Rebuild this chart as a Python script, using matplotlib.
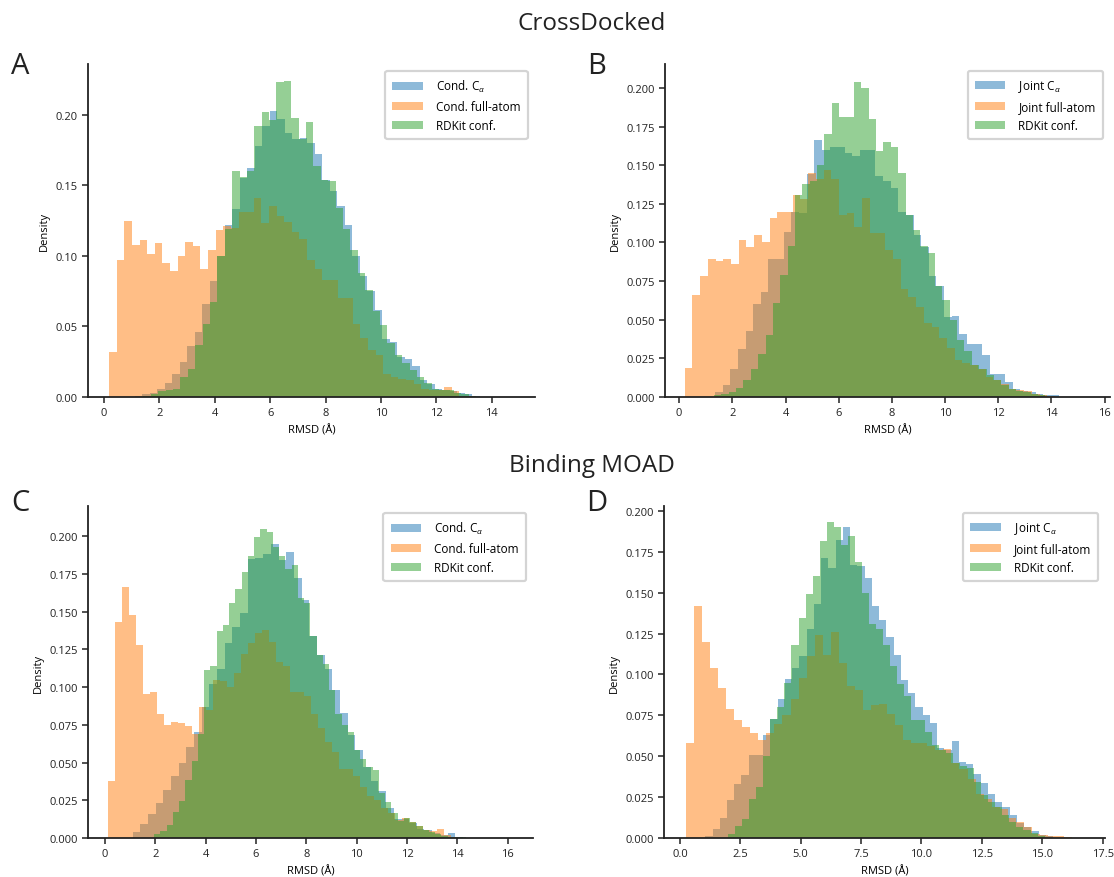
import numpy as np
import matplotlib.pyplot as plt
from matplotlib.ticker import MultipleLocator

plt.rcParams['font.family'] = ['Open Sans', 'DejaVu Sans']
plt.rcParams['mathtext.fontset'] = 'custom'
plt.rcParams['mathtext.rm'] = 'Open Sans'
plt.rcParams['mathtext.it'] = 'Open Sans:italic'

# histogram data: first bin edge, bin width, density per bin
# --- CrossDocked, conditional (A)
a_ca_start, a_ca_width = 1.10, 0.271
a_ca = [0.001, 0.002, 0.003, 0.006, 0.010, 0.016, 0.025, 0.036, 0.046, 0.066,
        0.082, 0.100, 0.122, 0.133, 0.155, 0.162, 0.178, 0.192, 0.203, 0.197,
        0.187, 0.183, 0.1835, 0.180, 0.172, 0.154, 0.146, 0.135, 0.122, 0.100,
        0.086, 0.075, 0.062, 0.041, 0.039, 0.028, 0.027, 0.022, 0.012, 0.009,
        0.006, 0.005, 0.004, 0.003, 0.002, 0.001]
a_fa_start, a_fa_width = 0.18, 0.275
a_fa = [0.032, 0.097, 0.125, 0.108, 0.111, 0.101, 0.109, 0.095, 0.089, 0.100,
        0.110, 0.107, 0.091, 0.104, 0.118, 0.121, 0.120, 0.131, 0.131, 0.141,
        0.123, 0.135, 0.128, 0.124, 0.117, 0.112, 0.097, 0.091, 0.083, 0.083,
        0.070, 0.070, 0.052, 0.042, 0.033, 0.030, 0.016, 0.014, 0.013, 0.012,
        0.009, 0.006, 0.005, 0.005, 0.007, 0.004, 0.001, 0.0005, 0.0003, 0.0002]
a_rd_start, a_rd_width = 1.42, 0.267
a_rd = [0.001, 0.002, 0.004, 0.005, 0.006, 0.014, 0.020, 0.037, 0.052, 0.067,
        0.100, 0.119, 0.160, 0.156, 0.160, 0.192, 0.202, 0.196, 0.223, 0.224,
        0.198, 0.183, 0.195, 0.164, 0.154, 0.153, 0.134, 0.119, 0.104, 0.088,
        0.076, 0.061, 0.051, 0.038, 0.030, 0.024, 0.019, 0.014, 0.010, 0.006,
        0.005, 0.005, 0.003, 0.002, 0.001]

# --- CrossDocked, joint (B)
b_ca_start, b_ca_width = 1.35, 0.287
b_ca = [0.003, 0.008, 0.018, 0.031, 0.043, 0.060, 0.068, 0.089, 0.089, 0.107,
        0.120, 0.119, 0.144, 0.166, 0.160, 0.162, 0.162, 0.158, 0.156, 0.160,
        0.160, 0.143, 0.140, 0.135, 0.120, 0.118, 0.105, 0.097, 0.078, 0.072,
        0.052, 0.0527, 0.041, 0.034, 0.034, 0.027, 0.015, 0.015, 0.010, 0.005,
        0.004, 0.003, 0.002, 0.0015, 0.001]
b_fa_start, b_fa_width = 0.21, 0.29
b_fa = [0.019, 0.066, 0.078, 0.089, 0.088, 0.089, 0.086, 0.1015, 0.097, 0.105,
        0.100, 0.116, 0.120, 0.120, 0.131, 0.128, 0.145, 0.141, 0.147, 0.141,
        0.118, 0.119, 0.110, 0.129, 0.106, 0.106, 0.095, 0.089, 0.070, 0.0645,
        0.0585, 0.048, 0.045, 0.0385, 0.032, 0.024, 0.022, 0.021, 0.018, 0.013,
        0.011, 0.0086, 0.0054, 0.0043, 0.0037, 0.002, 0.001, 0.0005, 0.0003, 0.0002]
b_rd_start, b_rd_width = 1.31, 0.277
b_rd = [0.001, 0.002, 0.003, 0.006, 0.011, 0.018, 0.028, 0.040, 0.061, 0.079,
        0.098, 0.131, 0.138, 0.140, 0.150, 0.170, 0.190, 0.181, 0.181, 0.204,
        0.200, 0.180, 0.159, 0.165, 0.162, 0.145, 0.118, 0.108, 0.098, 0.093,
        0.072, 0.063, 0.050, 0.037, 0.030, 0.021, 0.018, 0.014, 0.011, 0.008,
        0.005, 0.004, 0.003, 0.002, 0.001]

# --- Binding MOAD, conditional (C)
c_ca_start, c_ca_width = 1.10, 0.305
c_ca = [0.004, 0.009, 0.016, 0.023, 0.032, 0.041, 0.050, 0.060, 0.070, 0.087,
        0.102, 0.112, 0.129, 0.140, 0.149, 0.185, 0.1855, 0.188, 0.195, 0.184,
        0.1895, 0.172, 0.1575, 0.134, 0.121, 0.112, 0.098, 0.083, 0.068, 0.058,
        0.047, 0.0375, 0.031, 0.020, 0.0125, 0.0125, 0.010, 0.006, 0.005, 0.003,
        0.002, 0.003, 0.001]
c_fa_start, c_fa_width = 0.11, 0.278
c_fa = [0.0376, 0.143, 0.1665, 0.148, 0.128, 0.0955, 0.097, 0.082, 0.0747, 0.0767,
        0.076, 0.0745, 0.0688, 0.0868, 0.085, 0.105, 0.104, 0.100, 0.109, 0.122,
        0.129, 0.136, 0.1377, 0.1296, 0.1163, 0.114, 0.0966, 0.0966, 0.094, 0.0824,
        0.073, 0.0638, 0.0568, 0.0457, 0.0457, 0.0413, 0.0337, 0.028, 0.025, 0.020,
        0.0168, 0.0118, 0.0135, 0.0103, 0.008, 0.0055, 0.0048, 0.0059, 0.002, 0.001]
c_rd_start, c_rd_width = 1.955, 0.248
c_rd = [0.0026, 0.0044, 0.0085, 0.017, 0.0245, 0.0387, 0.0507, 0.069, 0.111, 0.114,
        0.137, 0.141, 0.156, 0.165, 0.176, 0.187, 0.1997, 0.205, 0.2026, 0.1925,
        0.187, 0.1785, 0.181, 0.159, 0.156, 0.134, 0.121, 0.115, 0.098, 0.082,
        0.075, 0.070, 0.058, 0.0524, 0.047, 0.045, 0.030, 0.024, 0.0168, 0.0114,
        0.0135, 0.0103, 0.008, 0.0055, 0.004, 0.0025, 0.0015, 0.001, 0.0008, 0.0006]

# --- Binding MOAD, joint (D)
d_ca_start, d_ca_width = 1.05, 0.30
d_ca = [0.001, 0.0055, 0.012, 0.023, 0.033, 0.0385, 0.051, 0.051, 0.0627, 0.073,
        0.085, 0.0974, 0.104, 0.111, 0.128, 0.143, 0.171, 0.165, 0.182, 0.190,
        0.167, 0.166, 0.159, 0.142, 0.133, 0.123, 0.1116, 0.0968, 0.0887, 0.080,
        0.075, 0.0704, 0.055, 0.054, 0.0595, 0.0467, 0.0455, 0.039, 0.0335, 0.027,
        0.022, 0.019, 0.014, 0.009, 0.007, 0.004, 0.002, 0.001]
d_fa_start, d_fa_width = 0.25, 0.333
d_fa = [0.058, 0.142, 0.120, 0.104, 0.092, 0.079, 0.072, 0.068, 0.064, 0.060,
        0.064, 0.070, 0.075, 0.085, 0.0976, 0.111, 0.124, 0.112, 0.126, 0.107,
        0.093, 0.0907, 0.0785, 0.0814, 0.082, 0.0757, 0.0688, 0.060, 0.058, 0.058,
        0.056, 0.054, 0.0546, 0.046, 0.042, 0.036, 0.027, 0.0237, 0.0187, 0.018,
        0.012, 0.0095, 0.0065, 0.0024, 0.0018, 0.0014, 0.001, 0.0005, 0.0003, 0.0002]
d_rd_start, d_rd_width = 2.0, 0.291
d_rd = [0.0024, 0.0075, 0.0116, 0.024, 0.031, 0.050, 0.0728, 0.080, 0.0948, 0.118,
        0.1345, 0.149, 0.160, 0.1814, 0.193, 0.190, 0.179, 0.1845, 0.1686, 0.150,
        0.131, 0.128, 0.118, 0.105, 0.094, 0.0866, 0.072, 0.072, 0.065, 0.057,
        0.054, 0.052, 0.046, 0.044, 0.043, 0.034, 0.026, 0.022, 0.019, 0.014,
        0.010, 0.007, 0.005, 0.003, 0.001]

cond_labels = ['Cond. C$_{\\alpha}$', 'Cond. full-atom', 'RDKit conf.']
joint_labels = ['Joint C$_{\\alpha}$', 'Joint full-atom', 'RDKit conf.']
colors = ['#1f77b4', '#ff7f0e', '#2ca02c']

fig = plt.figure(figsize=(11.14, 8.78), dpi=100)

panels = [
    ('A', [0.079, 0.5467, 0.401, 0.3793], (-0.58, 15.55), (0, 0.236), 2, 0.05,
     [(a_ca_start, a_ca_width, a_ca), (a_fa_start, a_fa_width, a_fa), (a_rd_start, a_rd_width, a_rd)],
     cond_labels),
    ('B', [0.597, 0.5467, 0.3994, 0.3793], (-0.53, 16.2), (0, 0.2155), 2, 0.025,
     [(b_ca_start, b_ca_width, b_ca), (b_fa_start, b_fa_width, b_fa), (b_rd_start, b_rd_width, b_rd)],
     joint_labels),
    ('C', [0.079, 0.0444, 0.3995, 0.3782], (-0.67, 17.0), (0, 0.22), 2, 0.025,
     [(c_ca_start, c_ca_width, c_ca), (c_fa_start, c_fa_width, c_fa), (c_rd_start, c_rd_width, c_rd)],
     cond_labels),
    ('D', [0.596, 0.0444, 0.396, 0.3782], (-0.66, 17.6), (0, 0.203), 2.5, 0.025,
     [(d_ca_start, d_ca_width, d_ca), (d_fa_start, d_fa_width, d_fa), (d_rd_start, d_rd_width, d_rd)],
     joint_labels),
]

for letter, rect, xlim, ylim, xstep, ystep, series, labels in panels:
    ax = fig.add_axes(rect)
    for (start, width, heights), color, label in zip(series, colors, labels):
        edges = start + width * np.arange(len(heights) + 1)
        ax.hist(edges[:-1], bins=edges, weights=heights, color=color, alpha=0.5,
                linewidth=0, label=label)
    ax.set_xlim(*xlim)
    ax.set_ylim(*ylim)
    ax.xaxis.set_major_locator(MultipleLocator(xstep))
    ax.yaxis.set_major_locator(MultipleLocator(ystep))
    if ystep == 0.05:
        ax.yaxis.set_major_formatter('{x:.2f}')
    else:
        ax.yaxis.set_major_formatter('{x:.3f}')
    if xstep == 2.5:
        ax.xaxis.set_major_formatter('{x:.1f}')
    ax.set_ylabel('Density', fontsize=8)
    ax.set_xlabel('RMSD (Å)', fontsize=8)
    for s in ['top', 'right']:
        ax.spines[s].set_visible(False)
    for s in ['left', 'bottom']:
        ax.spines[s].set_linewidth(1.3)
        ax.spines[s].set_color('#222222')
    ax.tick_params(labelsize=8, length=4, width=1.1, color='#222222', labelcolor='#222222')
    leg = ax.legend(loc='upper right', fontsize=8.5, frameon=True, fancybox=True,
                    framealpha=1, edgecolor='#d4d4d4', handlelength=2.6,
                    handletextpad=1.1, borderpad=0.6, borderaxespad=0.6)
    leg.get_frame().set_linewidth(1.6)
    lx = 20 / 1114 if letter in 'AC' else 597 / 1114
    ly = 1 - (66 / 878 if letter in 'AB' else 504 / 878)
    fig.text(lx, ly, letter, fontsize=21, ha='center', va='center', color='#222222')

fig.text(0.531, 1 - 24 / 878, 'CrossDocked', fontsize=17.5, ha='center', va='center', color='#222222')
fig.text(0.531, 1 - 466 / 878, 'Binding MOAD', fontsize=17.5, ha='center', va='center', color='#222222')

fig.savefig('out.png', dpi=100)
